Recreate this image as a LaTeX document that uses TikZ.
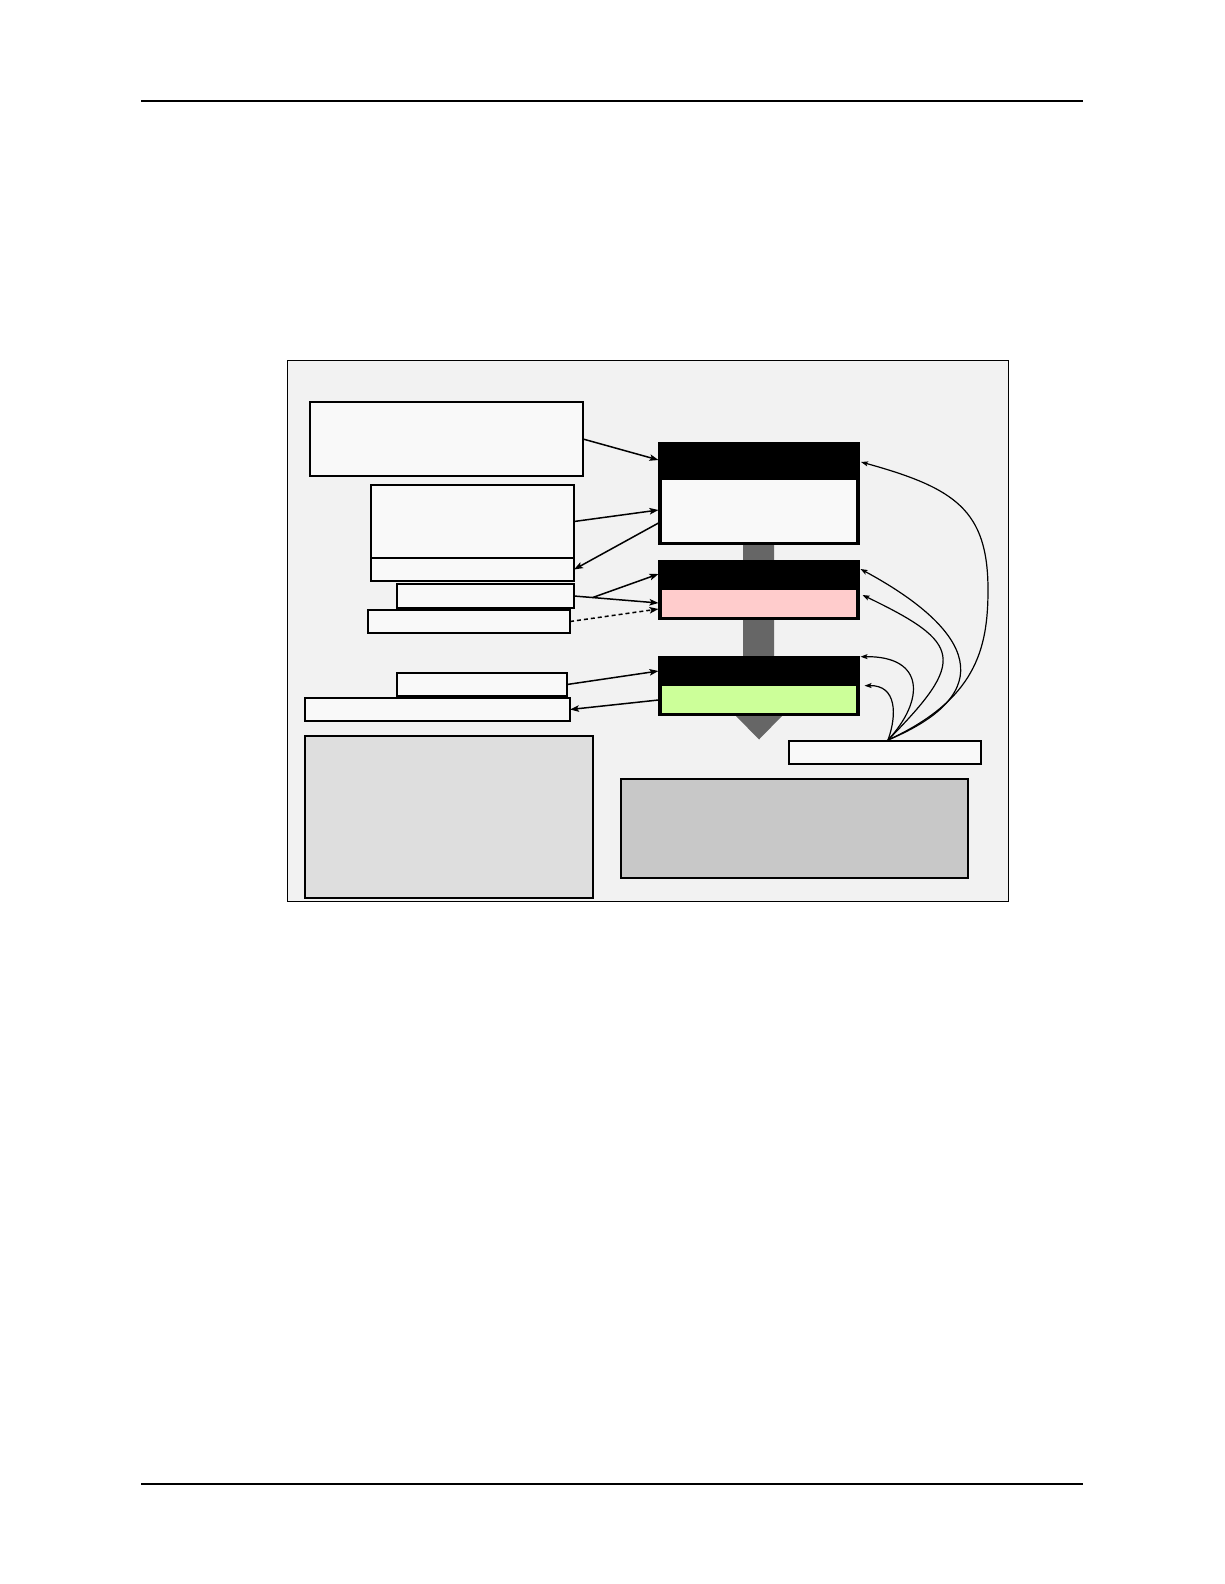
\documentclass[tikz,border=0pt]{standalone}
\usetikzlibrary{arrows.meta,calc}
\definecolor{framefill}{HTML}{F2F2F2}
\definecolor{pale}{HTML}{F9F9F9}
\definecolor{midgray}{HTML}{DEDEDE}
\definecolor{darkgray2}{HTML}{C8C8C8}
\definecolor{stemgray}{HTML}{666666}
\definecolor{pinkbody}{HTML}{FFCCCC}
\definecolor{greenbody}{HTML}{CCFF99}
\begin{document}
\begin{tikzpicture}[x=1pt,y=-1pt,
  box/.style={draw=black, line width=1.6pt, fill=pale, inner sep=0pt, outer sep=0pt, anchor=north west},
  blackbox/.style={fill=black, draw=none, inner sep=0pt, outer sep=0pt, anchor=north west},
  body/.style={draw=none, inner sep=0pt, outer sep=0pt, anchor=north west},
  conn/.style={line width=1.5pt, -{Stealth[length=9pt,width=6.5pt,inset=2pt]}},
  curv/.style={line width=1.2pt, -{Stealth[length=7pt,width=5pt,inset=1.5pt]}},
  rule/.style={line width=1.3pt}
]
\useasboundingbox (0,0) rectangle (1224,1584);
\fill[white] (0,0) rectangle (1224,1584);

% header and footer rules
\coordinate (hl) at (141,101); \coordinate (hr) at (1083,101);
\coordinate (fl) at (141,1484); \coordinate (fr) at (1083,1484);
\draw[rule] (hl) -- (hr);
\draw[rule] (fl) -- (fr);

% frame
\node[draw=black, line width=1pt, fill=framefill, inner sep=0pt, outer sep=0pt, anchor=north west,
      minimum width=721pt, minimum height=541pt] (frame) at (287,360) {};

% central block arrow (behind the boxes)
\fill[stemgray] (743,545) -- (774,545) -- (774,716) -- (782,716) -- (759,739.5) -- (736,716) -- (743,716) -- cycle;

% left boxes
\node[box, minimum width=273pt, minimum height=74pt] (A) at (310,402) {};
\node[box, minimum width=203pt, minimum height=73pt] (Bt) at (371,485) {};
\node[box, minimum width=203pt, minimum height=23pt] (Bl) at (371,558) {};
\node[box, minimum width=177pt, minimum height=24pt] (C) at (397,584) {};
\node[box, minimum width=202pt, minimum height=23pt] (D) at (368,610) {};
\node[box, minimum width=170pt, minimum height=23pt] (F) at (397,673) {};
\node[box, minimum width=265pt, minimum height=23pt] (G) at (305,698) {};
\node[box, fill=midgray, minimum width=288pt, minimum height=162pt] (H) at (305,736) {};
\node[box, fill=darkgray2, minimum width=347pt, minimum height=99pt] (I) at (621,779) {};
\node[box, minimum width=192pt, minimum height=23pt] (E) at (789,741) {};

% central boxes
\node[blackbox, minimum width=202pt, minimum height=103pt] (k1) at (658,442) {};
\node[body, fill=pale, minimum width=194.5pt, minimum height=61.5pt] (k1b) at (661.5,480) {};
\node[blackbox, minimum width=202pt, minimum height=60pt] (k2) at (658,560) {};
\node[body, fill=pinkbody, minimum width=194.5pt, minimum height=26.5pt] (k2b) at (661.5,590) {};
\node[blackbox, minimum width=202pt, minimum height=60pt] (k3) at (658,656) {};
\node[body, fill=greenbody, minimum width=194.5pt, minimum height=26.7pt] (k3b) at (661.5,686) {};

% target points on the central boxes
\coordinate (k1a) at ($(k1.north west)+(0.5,18)$);
\coordinate (k1c) at ($(k1.north west)+(0.5,68)$);
\coordinate (k1d) at ($(k1.north west)+(0.5,81)$);
\coordinate (k2a) at ($(k2.north west)+(0.5,14)$);
\coordinate (k2c) at ($(k2.north west)+(0.5,43)$);
\coordinate (k2d) at ($(k2.north west)+(0.5,49)$);
\coordinate (k3a) at ($(k3.north west)+(0.5,15)$);
\coordinate (k3c) at ($(k3.north west)+(0.5,44)$);
\coordinate (Ctap) at ($(C.east)!0.22!(k2c)$);

% straight connectors
\draw[conn] (A.east) -- (k1a);
\draw[conn] (Bt.east) -- (k1c);
\draw[conn] (k1d) -- (Bl.east);
\draw[conn] (C.east) -- (k2c);
\draw[conn] (Ctap) -- (k2a);
\draw[conn, dash pattern=on 4pt off 3pt] (D.east) -- (k2d);
\draw[conn] (F.east) -- (k3a);
\draw[conn] (k3c) -- (G.east);

% curved connectors from E
\coordinate (src) at ($(E.north west)+(99,-1)$);
\coordinate (r1) at ($(k1.north east)+(1,20)$);
\coordinate (r2) at ($(k2.north east)+(0.5,9)$);
\coordinate (r3) at ($(k2.north east)+(2.5,35)$);
\coordinate (r4) at ($(k3.north east)+(0.5,0.7)$);
\coordinate (r5) at ($(k3.north east)+(4.5,29.7)$);
\coordinate (bend1) at (988,590);
\draw[curv] (src) .. controls (975,700) and (988,650) .. (bend1) .. controls (988,510) and (955,488) .. (r1);
\draw[curv] (src) .. controls (1000,693) and (975,631) .. (r2);
\draw[curv] (src) .. controls (967,660) and (962,643) .. (r3);
\draw[curv] (src) .. controls (925,700) and (925,656) .. (r4);
\draw[curv] (src) .. controls (897,715) and (897,685) .. (r5);
\end{tikzpicture}
\end{document}
